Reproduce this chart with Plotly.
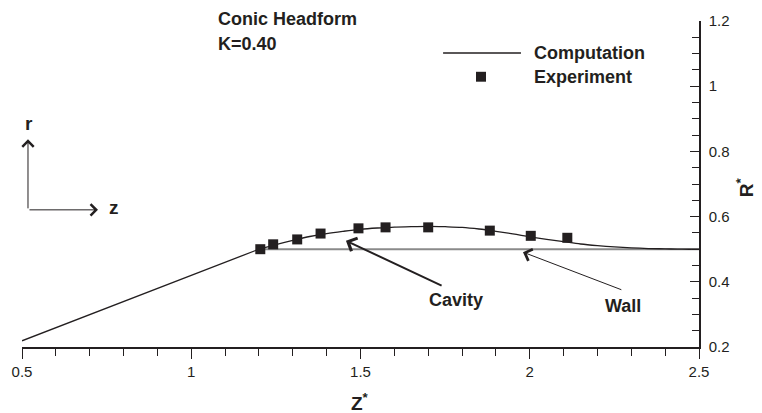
import plotly.graph_objects as go

# --- data -------------------------------------------------------------
comp_z = [0.5, 1.19, 1.2, 1.25, 1.3, 1.35, 1.4, 1.45, 1.5, 1.55, 1.6, 1.65, 1.7,
          1.75, 1.8, 1.85, 1.9, 1.95, 2.0, 2.05, 2.1, 2.15, 2.2, 2.25, 2.3,
          2.35, 2.4, 2.45, 2.5]
comp_r = [0.219, 0.496, 0.500, 0.514, 0.527, 0.539, 0.548, 0.555, 0.561, 0.565,
          0.568, 0.569, 0.570, 0.569, 0.567, 0.562, 0.555, 0.547, 0.538, 0.530,
          0.523, 0.516, 0.511, 0.507, 0.504, 0.502, 0.501, 0.500, 0.500]

exp_z = [1.204, 1.242, 1.313, 1.382, 1.494, 1.574, 1.700, 1.882, 2.003, 2.111]
exp_r = [0.500, 0.515, 0.530, 0.548, 0.564, 0.567, 0.567, 0.557, 0.541, 0.535]

wall_z = [1.2, 2.5]
wall_r = [0.5, 0.5]

x_ticks = [0.5, 1.0, 1.5, 2.0, 2.5]
x_labels = ["0.5", "1", "1.5", "2", "2.5"]
y_ticks = [0.2, 0.4, 0.6, 0.8, 1.0, 1.2]
y_labels = ["0.2", "0.4", "0.6", "0.8", "1", "1.2"]

INK = "#231f20"
FONT = "Liberation Sans, Arial, Helvetica, sans-serif"

fig = go.Figure()
fig.add_trace(go.Scatter(x=wall_z, y=wall_r, mode="lines",
                         line=dict(color="#8a8a8a", width=2), showlegend=False,
                         cliponaxis=False))
fig.add_trace(go.Scatter(x=comp_z, y=comp_r, mode="lines", line_shape="spline",
                         line=dict(color=INK, width=1.3), showlegend=False,
                         cliponaxis=False))
fig.add_trace(go.Scatter(x=exp_z, y=exp_r, mode="markers",
                         marker=dict(symbol="square", size=10, color=INK),
                         showlegend=False, cliponaxis=False))

bold = dict(family=FONT, size=18, color=INK)
big = dict(family=FONT, size=19, color=INK)

ann = []
# texts
ann.append(dict(xref="paper", yref="paper", x=0.2866, y=1.006, text="<b>Conic Headform</b>",
                showarrow=False, xanchor="left", yanchor="middle", font=bold))
ann.append(dict(xref="paper", yref="paper", x=0.2866, y=0.930, text="<b>K=0.40</b>",
                showarrow=False, xanchor="left", yanchor="middle", font=bold))
ann.append(dict(xref="paper", yref="paper", x=0.753, y=0.902, text="<b>Computation</b>",
                showarrow=False, xanchor="left", yanchor="middle", font=bold))
ann.append(dict(xref="paper", yref="paper", x=0.753, y=0.829, text="<b>Experiment</b>",
                showarrow=False, xanchor="left", yanchor="middle", font=bold))
ann.append(dict(x=1.781, y=0.343, text="<b>Cavity</b>", showarrow=False,
                xanchor="center", yanchor="middle", font=bold))
ann.append(dict(x=2.275, y=0.325, text="<b>Wall</b>", showarrow=False,
                xanchor="center", yanchor="middle", font=bold))
ann.append(dict(x=0.5205, y=0.885, text="<b>r</b>", showarrow=False,
                xanchor="center", yanchor="middle", font=big))
ann.append(dict(x=0.7715, y=0.627, text="<b>z</b>", showarrow=False,
                xanchor="center", yanchor="middle", font=big))
# axis titles
ann.append(dict(xref="paper", yref="paper", x=0.4993, y=-0.168, text="<b>Z<sup>*</sup></b>",
                showarrow=False, xanchor="center", yanchor="middle", font=big))
ann.append(dict(xref="paper", yref="paper", x=1.068, y=0.49, text="<b>R<sup>*</sup></b>",
                textangle=-90, showarrow=False, xanchor="center", yanchor="middle",
                font=big))

# arrows
def arrow(hx, hy, tx, ty, w, s):
    return dict(x=hx, y=hy, ax=tx, ay=ty, xref="x", yref="y", axref="x", ayref="y",
                text="", showarrow=True, arrowhead=4, arrowwidth=w, arrowsize=s,
                arrowcolor=INK, standoff=0, startstandoff=0)

ann.append(arrow(0.5177, 0.837, 0.5177, 0.6207, 1, 2.2))
ann.append(arrow(0.7245, 0.6207, 0.5177, 0.6207, 1, 2.2))
ann.append(arrow(1.457, 0.5262, 1.744, 0.386, 2, 1.4))
ann.append(arrow(1.980, 0.491, 2.275, 0.374, 1, 2.4))

shapes = [
    dict(type="line", xref="paper", yref="paper", x0=0.622, x1=0.737, y0=0.902, y1=0.902,
         line=dict(color=INK, width=1.5)),
    dict(type="rect", xref="paper", yref="paper", x0=0.6706, x1=0.6854, y0=0.8138, y1=0.8442,
         line=dict(width=0), fillcolor=INK),
]

fig.update_layout(
    width=762, height=413,
    margin=dict(l=22, r=63, t=19, b=66),
    paper_bgcolor="white", plot_bgcolor="white",
    font=dict(family=FONT, size=15, color=INK),
    annotations=ann, shapes=shapes,
    showlegend=False,
    xaxis=dict(range=[0.5, 2.5], tickvals=x_ticks, ticktext=x_labels,
               showgrid=False, zeroline=False, showline=True, linecolor=INK, linewidth=1.5,
               ticks="outside", ticklen=10, tickwidth=1.2, tickcolor=INK,
               minor=dict(dtick=0.1, tick0=0.5, ticks="outside", ticklen=7, tickwidth=1, tickcolor=INK),
               tickfont=dict(size=15)),
    yaxis=dict(range=[0.2, 1.2], tickvals=y_ticks, ticktext=y_labels, side="right",
               showgrid=False, zeroline=False, showline=True, linecolor=INK, linewidth=1.5,
               ticks="inside", ticklen=9, tickwidth=1.2, tickcolor=INK, ticklabelstandoff=5,
               minor=dict(dtick=0.05, tick0=0.2, ticks="inside", ticklen=7, tickwidth=1, tickcolor=INK),
               tickfont=dict(size=15)),
)

fig.write_html("out.html")
